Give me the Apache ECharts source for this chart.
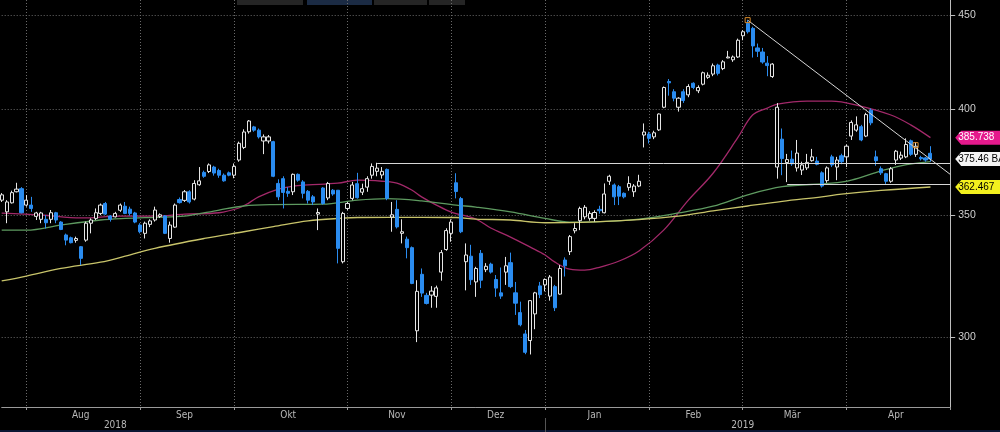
<!DOCTYPE html>
<html><head><meta charset="utf-8">
<script src="https://cdn.jsdelivr.net/npm/echarts@6.0.0/dist/echarts.min.js"></script>
<style>html,body{margin:0;padding:0;background:#000;overflow:hidden}#c{width:1000px;height:432px}</style>
</head><body><div id="c"></div>
<script>
// ---- trading days (categories) ----
const monthKeys = ['2018-07','2018-08','2018-09','2018-10','2018-11','2018-12','2019-01','2019-02','2019-03','2019-04'];
const monthDays = [
  [24,25,26,27,30,31],
  [1,2,3,6,7,8,9,10,13,14,15,16,17,20,21,22,23,24,27,28,29,30,31],
  [4,5,6,7,10,11,12,13,14,17,18,19,20,21,24,25,26,27,28],
  [1,2,3,4,5,8,9,10,11,12,15,16,17,18,19,22,23,24,25,26,29,30,31],
  [1,2,5,6,7,8,9,12,13,14,15,16,19,20,21,23,26,27,28,29,30],
  [3,4,6,7,10,11,12,13,14,17,18,19,20,21,24,26,27,28,31],
  [2,3,4,7,8,9,10,11,14,15,16,17,18,22,23,24,25,28,29,30,31],
  [1,4,5,6,7,8,11,12,13,14,15,19,20,21,22,25,26,27,28],
  [1,4,5,6,7,8,11,12,13,14,15,18,19,20,21,22,25,26,27,28,29],
  [1,2,3,4,5,8,9,10,11,12,15,16,17,18,22,23,24,25,26,29,30]
];
// ---- OHLC (BA), one value per trading day from 2018-07-24 ----
const opens = [
356.5,351.3,355.3,360.3,361.7,354.3,354.3,349.3,348.0,348.0,
348.0,350.9,346.8,341.2,340.0,338.9,336.2,339.0,346.3,348.4,
350.6,355.0,349.5,349.1,352.0,353.8,352.5,350.8,345.5,341.9,
345.8,347.7,349.3,349.5,339.7,344.6,356.8,356.4,360.3,357.0,
363.5,369.2,369.6,371.7,370.1,367.9,369.0,367.9,375.0,381.0,
388.6,391.0,389.4,384.1,384.1,383.8,364.1,366.3,360.5,360.3,
368.3,364.8,360.5,358.0,350.3,362.0,357.5,361.0,361.0,329.9,
352.8,357.3,364.0,360.1,362.4,367.9,369.7,368.0,370.6,349.0,
352.4,341.9,339.4,335.8,302.4,324.7,316.2,316.3,315.8,325.6,
335.0,341.9,364.4,357.2,329.9,332.2,321.6,333.4,326.6,328.9,
322.6,317.2,325.6,329.5,317.2,309.4,301.2,298.7,308.9,320.0,
320.4,315.9,319.7,316.7,330.6,334.1,343.0,347.4,349.1,348.4,
348.4,352.4,350.9,365.1,363.4,362.6,359.6,362.3,360.3,362.9,
387.0,387.5,386.1,389.5,400.8,414.0,408.7,400.8,408.7,407.1,
413.1,409.2,412.6,416.2,417.9,422.7,420.8,426.5,425.5,427.0,
438.6,445.5,442.7,431.9,429.7,423.7,416.6,371.7,385.0,373.8,
375.4,371.3,370.3,371.3,374.7,374.5,369.0,365.4,376.5,371.7,
377.0,376.5,386.5,389.4,391.1,386.5,399.3,376.5,370.9,368.6,
365.1,375.0,375.9,376.5,384.2,377.7,376.2,376.0,378.2];
const highs = [
359.7,356.5,360.8,364.4,362.4,358.8,358.0,351.3,351.3,349.9,
352.1,351.3,347.2,341.8,340.5,340.5,336.5,347.0,348.4,352.8,
355.0,355.7,349.9,351.3,355.0,355.7,353.6,351.3,346.3,347.0,
348.0,353.6,350.6,349.9,347.0,355.0,357.7,361.1,361.0,365.6,
371.7,370.0,373.4,372.3,370.9,368.7,369.6,373.4,383.8,389.8,
394.4,391.5,390.2,387.3,387.0,384.2,366.0,367.4,362.4,368.7,
368.7,365.6,361.1,358.8,352.8,362.4,364.8,361.5,361.1,351.3,
355.7,364.8,369.0,364.0,367.4,373.4,373.7,371.7,371.0,355.7,
356.5,348.0,340.5,336.3,322.3,327.1,317.2,319.9,320.1,334.8,
344.1,348.0,368.8,358.0,337.6,337.0,327.8,334.8,329.3,329.5,
324.4,327.5,331.9,333.7,321.6,313.7,302.7,314.3,317.6,321.6,
323.0,324.4,320.4,328.5,331.7,341.2,346.3,353.6,354.3,351.6,
352.0,354.0,364.1,368.1,364.1,363.4,360.0,367.4,363.8,368.1,
392.7,388.6,389.1,397.7,411.4,415.3,410.0,405.9,410.0,412.6,
413.6,412.0,419.2,418.8,423.5,423.4,425.3,430.3,427.8,437.0,
441.7,447.3,443.6,434.3,431.9,427.5,423.7,402.9,390.2,377.9,
379.5,384.6,374.2,377.9,380.3,376.5,369.7,372.0,377.5,376.5,
378.0,382.4,394.2,396.2,392.0,398.0,400.2,379.5,372.0,369.0,
371.7,379.8,379.0,385.4,384.8,383.6,377.0,376.5,381.6];
const lows = [
355.7,346.3,355.0,360.0,350.6,353.6,351.3,347.7,346.3,344.0,
346.3,346.3,343.3,336.8,337.6,337.9,328.5,338.3,341.9,347.7,
349.9,349.9,347.0,348.8,351.3,350.3,349.6,346.3,341.9,339.7,
344.6,347.0,348.6,341.6,337.9,344.3,355.0,355.7,355.0,356.4,
363.0,366.7,368.9,367.7,366.7,364.9,367.4,366.5,374.2,380.2,
387.7,388.6,385.3,377.8,382.9,367.0,356.5,352.8,358.0,358.8,
364.9,357.3,355.0,354.3,343.3,354.5,356.5,358.5,329.2,329.2,
352.0,356.5,357.2,358.8,360.3,366.3,367.4,366.3,356.5,342.6,
344.0,337.6,331.3,320.7,298.1,315.6,312.6,311.3,311.3,322.1,
334.5,338.3,357.3,342.0,318.2,320.4,315.6,319.1,325.6,325.0,
315.6,314.8,320.4,319.1,308.5,304.1,293.6,293.5,303.0,315.1,
317.8,314.1,310.0,316.5,323.8,332.7,341.9,343.3,348.0,347.4,
347.0,350.5,350.6,363.4,354.3,354.3,357.3,360.8,358.0,362.4,
381.0,382.9,385.0,389.0,400.3,406.7,403.8,398.6,403.0,405.9,
410.0,408.0,412.0,415.4,416.8,417.2,420.0,426.3,424.4,426.5,
436.1,439.8,426.7,427.0,423.4,416.8,415.9,366.3,367.9,364.7,
372.3,369.6,368.0,370.3,374.2,372.5,362.2,364.4,371.7,365.6,
373.0,371.7,384.6,388.6,384.0,386.0,391.8,372.3,368.0,363.9,
364.4,372.7,375.0,375.9,377.0,376.5,374.8,374.2,374.2];
const closes = [
358.9,355.7,359.9,361.5,350.9,356.5,352.8,350.8,350.8,346.5,
350.9,347.7,343.6,339.0,337.9,339.7,331.3,346.3,347.7,350.9,
354.3,350.3,348.0,350.6,354.3,350.6,350.6,346.8,342.6,346.3,
347.3,352.1,350.0,341.9,345.5,354.3,355.4,360.3,355.7,364.1,
365.3,367.4,372.7,368.9,367.9,365.3,367.9,372.0,383.0,388.5,
393.9,389.4,386.1,386.1,386.1,367.4,358.0,360.0,359.6,368.3,
365.6,359.6,356.5,355.7,351.0,355.0,364.1,359.3,335.5,350.6,
355.0,363.4,357.6,361.7,366.3,372.0,371.2,369.7,357.3,350.0,
344.7,342.6,335.8,321.0,317.8,317.1,313.0,317.9,319.2,333.7,
343.1,346.8,360.4,342.6,332.7,322.5,327.1,322.3,328.0,325.6,
319.1,315.9,328.2,319.7,313.1,304.7,294.3,314.1,317.2,316.5,
322.6,323.6,311.3,327.1,328.2,340.5,344.0,352.8,353.3,350.6,
351.0,351.8,359.3,367.4,358.0,358.3,358.0,364.1,362.9,365.1,
388.5,385.4,388.1,397.4,410.9,413.3,405.4,405.4,404.2,411.4,
410.9,410.9,418.6,417.3,422.3,418.3,424.4,427.0,427.0,436.1,
440.8,440.8,433.0,430.1,424.3,422.4,423.2,400.8,375.7,375.2,
373.2,378.3,372.7,373.9,376.5,373.0,362.9,371.3,372.7,375.0,
374.2,381.6,393.2,392.0,384.6,397.1,393.0,374.7,369.0,365.1,
370.9,379.2,377.3,382.4,377.7,381.6,375.6,375.0,375.46];
// ---- moving averages: [day index, value] ----
const maPink = [[0,350.7],[8,349.9],[16,348.6],[24,349.4],[31,349.4],[37,350.3],[44,350.9],[48,353.0],[50,355.2],[52,358.0],[56,361.5],[59,362.9],[62,363.4],[68,364.2],[72,365.6],[77,365.1],[80,364.2],[83,361.1],[85,358.0],[88,354.3],[91,351.2],[96,348.1],[99,344.2],[103,340.3],[107,336.0],[110,332.7],[112,329.7],[115,326.8],[118,326.4],[121,327.6],[125,330.2],[129,334.4],[134,343.3],[139,356.5],[144,368.8],[149,385.7],[152,396.9],[155,400.4],[157,402.4],[163,403.9],[168,403.9],[173,401.9],[180,396.9],[184,392.0],[188,385.738]];
const maGreen = [[0,343.3],[5,343.3],[12,345.5],[20,347.7],[25,348.4],[31,348.9],[37,349.4],[44,352.1],[49,353.9],[55,354.5],[65,354.7],[72,356.5],[78,357.2],[85,356.2],[92,354.3],[96,353.4],[103,351.3],[110,348.4],[115,346.8],[120,346.9],[129,348.1],[137,350.8],[144,353.8],[151,358.9],[158,362.6],[168,364.2],[172,365.6],[178,369.9],[182,372.3],[188,374.2]];
const maYellow = [[0,322.0],[5,324.0],[12,327.1],[20,329.7],[25,332.2],[31,335.5],[41,339.7],[49,342.6],[55,344.8],[62,347.3],[69,348.5],[72,348.8],[85,348.9],[92,348.8],[96,348.1],[103,347.7],[110,346.5],[120,346.9],[129,347.9],[137,349.4],[144,351.7],[151,353.9],[158,356.0],[166,358.0],[170,359.2],[178,360.9],[188,362.467]];
// ---- drawn annotations ----
const trendLine = [[151,447.3],[192,368.3]];
const resistance = [76, 373.4];
const support = [159, 363.7];
const handles = [[151,447.3],[185,382.1]];
// ---- tags on right ----
const tagPink = 385.738, tagLast = 375.46, tagYellow = 362.467;
// ---- axis labels ----
const yTicks = [300,350,400,450];
const monthLabels = ['Aug','Sep','Okt','Nov','Dez','Jan','Feb','Mär','Apr'];
const monthLabelIdx = [16,37,58,80,100,120,140,160,181];
const yearLabels = ['2018','2019'];
const yearLabelIdx = [23,150];

const categories = [];
monthKeys.forEach((m,mi)=>monthDays[mi].forEach(d=>categories.push(m+'-'+String(d).padStart(2,'0'))));
const lastIdx = categories.length-1;
const gridIdx = [];
categories.forEach((c,i)=>{ if(i===lastIdx || categories[i+1].slice(0,7)!==c.slice(0,7)) gridIdx.push(i); });
const yearSepIdx = categories.findIndex(c=>c.startsWith('2019')) - 1;

const candleData = opens.map((o,i)=>[o, closes[i], lows[i], highs[i]]);
const FONT = "'DejaVu Sans Condensed','Liberation Sans',sans-serif";
const NUMFONT = "'Liberation Sans',Arial,sans-serif";
const tagPath = 'path://M0,7 L6,0 L62,0 L62,14 L6,14 Z';
function tagLabel(text, textColor){
  return {show:true, position:'inside', align:'left', offset:[-28,0], formatter:text, color:textColor, fontSize:10, fontFamily:NUMFONT};
}
function tag(value, color, text, textColor){
  return {symbol: tagPath, symbolSize:[62,14], symbolKeepAspect:false, symbolOffset:[36,0], silent:true,
    data:[{coord:[lastIdx, value]}], itemStyle:{color:color}, label:tagLabel(text, textColor)};
}

const chart = echarts.init(document.getElementById('c'), null, {renderer:'canvas'});
chart.setOption({
  backgroundColor:'#000',
  animation:false,
  grid:{left:1.7, right:49.8, top:0, bottom:25},
  xAxis:[{
    type:'category', data:categories, boundaryGap:false,
    axisLine:{show:true, lineStyle:{color:'#9a9a9a', width:1}},
    axisTick:{show:true, interval:(i)=>gridIdx.includes(i), length:3, lineStyle:{color:'#9a9a9a'}},
    axisLabel:{interval:(i)=>monthLabelIdx.includes(i), formatter:(v,i)=>monthLabels[monthLabelIdx.indexOf(i)]||'', color:'#b8b8b8', fontSize:10, margin:3, fontFamily:FONT},
    splitLine:{show:true, interval:(i)=>gridIdx.includes(i) && i!==lastIdx, lineStyle:{color:'#6a6a6a', width:1, type:[1,2]}}
  },{
    type:'category', data:categories, boundaryGap:false, position:'bottom', offset:11,
    axisLine:{show:false},
    axisTick:{show:true, interval:(i)=>i===yearSepIdx, length:14, lineStyle:{color:'#555'}},
    axisLabel:{interval:(i)=>yearLabelIdx.includes(i), formatter:(v,i)=>yearLabels[yearLabelIdx.indexOf(i)]||'', color:'#b8b8b8', fontSize:10, margin:2, fontFamily:FONT},
    splitLine:{show:false}
  }],
  yAxis:{
    type:'log', logBase:10, position:'right', min:274.7, max:458.8, scale:true,
    axisLine:{show:true, lineStyle:{color:'#bdbdbd', width:1}},
    axisTick:{show:true, length:5, customValues:yTicks, lineStyle:{color:'#bdbdbd'}},
    axisLabel:{customValues:yTicks, color:'#cfcfcf', fontSize:10.5, margin:8, fontFamily:NUMFONT, formatter:(v)=>String(Math.round(v))},
    splitLine:{show:true, lineStyle:{color:'#6a6a6a', width:1, type:[1,2]}}
  },
  series:[
    {type:'line', name:'MA pink', data:maPink, showSymbol:false, smooth:0.35, z:2, lineStyle:{color:'#a3296a', width:1.3}, markPoint:tag(tagPink,'#e4198c','385.738','#fff')},
    {type:'line', name:'MA green', data:maGreen, showSymbol:false, smooth:0.35, z:2, lineStyle:{color:'#5e9a60', width:1.3}},
    {type:'line', name:'MA yellow', data:maYellow, showSymbol:false, smooth:0.35, z:2, lineStyle:{color:'#c8c46a', width:1.3}, markPoint:tag(tagYellow,'#f2f01e','362.467','#000')},
    {type:'candlestick', name:'BA', data:candleData, barWidth:3.6, z:3,
      itemStyle:{color:'#000', color0:'#2a8cf0', borderColor:'#e6e6e6', borderColor0:'#2a8cf0', borderWidth:1},
      markLine:{silent:true, symbol:['none','none'], label:{show:false}, lineStyle:{color:'#d6d6d6', width:1, type:'solid'},
        data:[
          [{coord:trendLine[0]},{coord:trendLine[1]}],
          [{coord:[resistance[0], resistance[1]]},{coord:[lastIdx, resistance[1]]}],
          [{coord:[support[0], support[1]]},{coord:[lastIdx, support[1]]}]
        ]},
      markPoint:{
        data:[
          {coord:handles[0], symbol:'rect', symbolSize:5, itemStyle:{color:'rgba(0,0,0,0)', borderColor:'#d98b2b', borderWidth:1}, label:{show:false}},
          {coord:handles[1], symbol:'rect', symbolSize:5, itemStyle:{color:'rgba(0,0,0,0)', borderColor:'#d98b2b', borderWidth:1}, label:{show:false}},
          {coord:[lastIdx, tagLast], symbol:tagPath, symbolSize:[62,14], symbolKeepAspect:false, symbolOffset:[36,0], itemStyle:{color:'#f4f4f4'},
            label:tagLabel('375.46 BA', '#000')}
        ]
      }
    }
  ],
  graphic:[
    {type:'rect', shape:{x:237,y:0,width:66,height:5}, style:{fill:'#252525'}, silent:true},
    {type:'rect', shape:{x:307,y:0,width:65,height:5}, style:{fill:'#1b2b44'}, silent:true},
    {type:'rect', shape:{x:374,y:0,width:53,height:5}, style:{fill:'#252525'}, silent:true},
    {type:'rect', shape:{x:429,y:0,width:36,height:5}, style:{fill:'#252525'}, silent:true},
    {type:'rect', shape:{x:0,y:430,width:1000,height:2}, style:{fill:'#0b1733'}, silent:true}
  ]
});
</script></body></html>
